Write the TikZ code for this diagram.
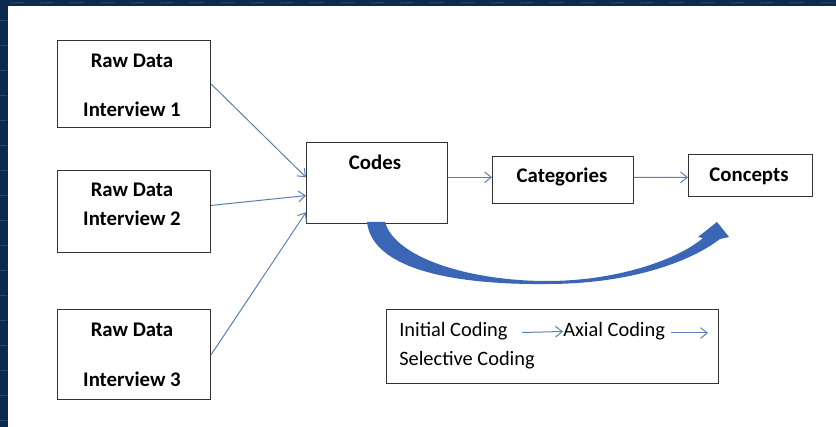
\documentclass[tikz,border=0pt]{standalone}
\usepackage{fontspec}
\setmainfont{Carlito}
\usetikzlibrary{arrows.meta,calc}
\definecolor{navy}{HTML}{0B2A4E}
\definecolor{navylt}{HTML}{24456C}
\definecolor{thinblue}{HTML}{5E7FB3}
\definecolor{bigblue}{HTML}{3A66B5}
\definecolor{boxline}{HTML}{333333}
\tikzset{
  box/.style={draw=boxline,line width=0.9pt,fill=white,inner sep=0pt,anchor=north west},
  lbl/.style={font=\fontsize{15.6}{18}\selectfont\bfseries,inner sep=0pt},
  leg/.style={font=\fontsize{15.3}{18}\selectfont,inner sep=0pt},
  conn/.style={draw=thinblue,line width=0.75pt,-{Straight Barb[length=5pt,width=8pt]}}
}
\begin{document}
\begin{tikzpicture}[x=0.75pt,y=-0.75pt]
\useasboundingbox (0,0) rectangle (836,427);
% background frame
\fill[navy] (0,0) rectangle (836,427);
\fill[white] (8,6) rectangle (836,427);
\foreach \xx in {10,40,70,100,130,160,190,220,250,280,310,340,370,400,430,460,490,520,550,580,610,640,670,700,730,760,790,820}
  \draw[navylt,line width=0.8pt] (\xx,3) -- ++(14,-0.5);
\foreach \yy in {20,45,70,95,120,145,170,195,220,245,270,295,320,345,370,395,420}
  \draw[navylt,line width=0.6pt] (0,\yy) -- (7,\yy);
% boxes
\node[box,minimum width=153*0.75pt,minimum height=87*0.75pt] (b1) at (57,40) {};
\node[box,minimum width=153*0.75pt,minimum height=82*0.75pt] (b2) at (57,170) {};
\node[box,minimum width=153*0.75pt,minimum height=90*0.75pt] (b3) at (57,309) {};
\node[box,minimum width=141*0.75pt,minimum height=81*0.75pt] (cod) at (306,142) {};
\node[box,minimum width=141*0.75pt,minimum height=47*0.75pt] (cat) at (492,156) {};
\node[box,minimum width=124*0.75pt,minimum height=42*0.75pt] (con) at (688,154) {};
\node[box,minimum width=332*0.75pt,minimum height=74*0.75pt] (leg) at (386,309) {};
% labels
\node[lbl] (t1a) at (132,61) {Raw Data};
\node[lbl] (t1b) at (132,109) {Interview 1};
\node[lbl] (t2a) at (132,190) {Raw Data};
\node[lbl] (t2b) at (132,218) {Interview 2};
\node[lbl] (t3a) at (132,330) {Raw Data};
\node[lbl] (t3b) at (132,379) {Interview 3};
\node[lbl] (tc) at (375,162) {Codes};
\node[lbl] (tcat) at (562,176.5) {Categories};
\node[lbl] (tcon) at (749,176) {Concepts};
% thin connectors
\draw[conn] (b1.east) -- ($(cod.west)+(0,5.8*0.75pt)$);
\draw[conn] ($(b2.east)+(0,6.2*0.75pt)$) -- ($(cod.west)+(0,-12.5*0.75pt)$);
\draw[conn] (b3.east) -- ($(cod.west)+(0,-29.2*0.75pt)$);
\draw[conn] ($(cod.east)+(0,5.8*0.75pt)$) -- ($(cat.west)+(0,2.8*0.75pt)$);
\draw[conn] ($(cat.east)+(0,2.8*0.75pt)$) -- ($(con.west)+(0,-1.7*0.75pt)$);
% legend
\node[leg,anchor=west] (l1) at (399,331.5) {Initial Coding};
\coordinate (la) at (522,332.5);
\node[leg,anchor=west] (l2) at (563,331.5) {Axial Coding};
\coordinate (lb) at (671,333);
\coordinate (lc) at (708,333);
\node[leg,anchor=west] (l3) at (399,360) {Selective Coding};
\draw[conn] (la) -- (l2.west);
\draw[conn] (lb) -- (lc);
% big curved arrow
\fill[bigblue] (367,222) .. controls (372,268) and (450,285) .. (547,284)
  .. controls (630,284) and (690,262) .. (720,239)
  -- (729,237) -- (717,222) -- (698,237) -- (703,238)
  .. controls (680,258) and (620,281) .. (547,281)
  .. controls (470,281) and (395,258) .. (385,222) -- cycle;
\end{tikzpicture}
\end{document}
